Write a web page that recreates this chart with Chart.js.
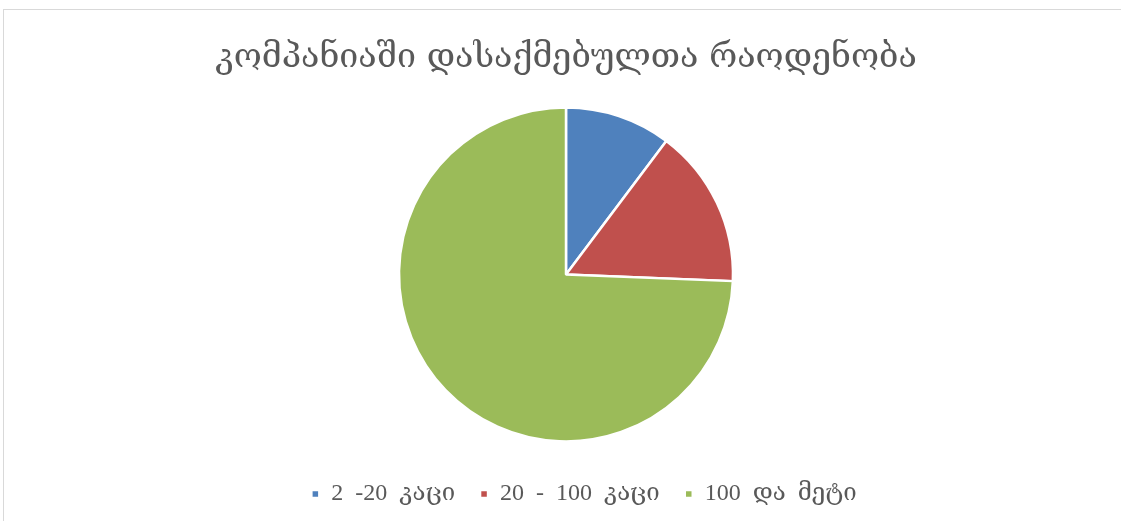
<!DOCTYPE html>
<html>
<head>
<meta charset="utf-8">
<script src="https://cdn.jsdelivr.net/npm/chart.js@4.4.1/dist/chart.umd.min.js"></script>
<style>
	html, body { margin: 0; padding: 0; background: #fff; overflow: hidden; }
	#frame { position: absolute; left: 3px; top: 9px; width: 1130px; height: 530px; border: 1px solid #d9d9d9; }
	#wrap { position: absolute; left: 0; top: 0; width: 1121px; height: 521px; }
</style>
</head>
<body>
<div id="frame"></div>
<div id="wrap"><canvas id="canvas-chart-pie-dasakmebulebi"></canvas></div>
<script>
var titulo = 'კომპანიაში დასაქმებულთა რაოდენობა';
var etiquetas = ['2  -20  კაცი', '20  -  100  კაცი', '100  და  მეტი'];
var valores = [4, 6, 29];
var colores = ['#4f81bd', '#c0504d', '#9bbb59'];

const canvasPie = document.getElementById('canvas-chart-pie-dasakmebulebi').getContext('2d');
var chartPie;

// la leyenda va un poco a la derecha en el original
var moverLeyenda = {
	id: 'moverLeyenda',
	afterLayout: function(chart){
		chart.legend.left += 18;
		chart.legend.right += 18;
	}
};

function chartDasakmebulebi(){
	chartPie = new Chart(canvasPie, {
		type: 'pie',
		data: {
			labels: etiquetas,
			datasets: [{
				label: titulo,
				data: valores,
				backgroundColor: colores,
				borderColor: '#ffffff',
				borderWidth: 2.5,
				hoverOffset: 0
			}]
		},
		options: {
			responsive: true,
			maintainAspectRatio: false,
			animation: false,
			radius: 167,
			layout: {
				padding: { left: 11, right: 0, top: 0, bottom: 5 }
			},
			plugins: {
				title: {
					display: true,
					text: titulo,
					color: '#595959',
					font: { family: "'DejaVu Serif', 'Liberation Serif', serif", size: 34, weight: 'normal' },
					padding: { top: 38, bottom: 13 }
				},
				legend: {
					display: true,
					position: 'bottom',
					labels: {
						color: '#595959',
						usePointStyle: true,
						pointStyle: 'rect',
						boxWidth: 8,
						boxHeight: 8,
						padding: 25,
						font: { family: "'Liberation Serif', 'DejaVu Serif', serif", size: 24 }
					}
				},
				tooltip: { enabled: false }
			}
		},
		plugins: [moverLeyenda]
	});
}

chartDasakmebulebi();
</script>
</body>
</html>
